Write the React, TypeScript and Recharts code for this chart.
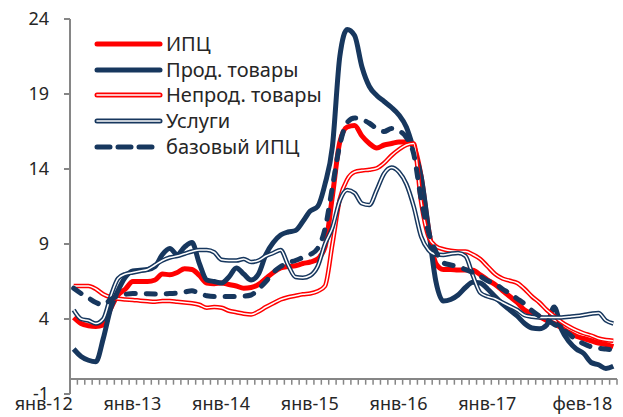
import React from 'react';
import { LineChart, Line, XAxis, YAxis, ReferenceLine } from 'recharts';

const monthNames = ['янв', 'фев', 'мар', 'апр', 'май', 'июн', 'июл', 'авг', 'сен', 'окт', 'ноя', 'дек'];
const categories: string[] = Array.from({ length: 74 }, (_, k) => `${monthNames[k % 12]}-${12 + Math.floor(k / 12)}`);
const shownTicks = [0, 12, 24, 36, 48, 60, 73];
const yTicks = [-1, 4, 9, 14, 19, 24];

const cpi = [
  4.1, 3.7, 3.55, 3.5, 3.6, 4.7, 5.6, 6.0, 6.5, 6.5, 6.5, 6.6,
  7.0, 6.95, 7.1, 7.35, 7.3, 6.9, 6.4, 6.35, 6.4, 6.3, 6.2, 6.05,
  6.1, 6.3, 6.7, 7.1, 7.4, 7.5, 7.55, 7.7, 7.8, 8.0, 8.8, 12.2,
  15.8, 16.8, 16.9, 16.2, 15.7, 15.4, 15.6, 15.7, 15.8, 15.8, 15.5, 13.5,
  10.0, 7.7, 7.3, 7.3, 7.27, 7.27, 7.25, 6.95, 6.6, 6.3, 5.9, 5.5,
  5.1, 4.6, 4.35, 4.15, 3.9, 3.7, 3.4, 3.1, 2.85, 2.7, 2.55, 2.4,
  2.3, 2.15,
];
const food = [
  2.0, 1.5, 1.25, 1.15, 2.7, 4.7, 5.9, 6.8, 7.2, 7.25, 7.3, 7.5,
  8.3, 8.7, 8.3, 8.8, 9.1, 7.7, 6.6, 6.5, 6.4, 6.8, 7.4, 7.0,
  6.6, 7.0, 8.3, 9.1, 9.6, 9.8, 9.9, 10.5, 11.2, 11.5, 13.0, 15.5,
  21.5, 23.3, 22.9, 20.8, 19.5, 18.9, 18.5, 18.1, 17.6, 16.8, 15.3, 13.5,
  10.0, 6.5, 5.2, 5.3, 5.6, 6.1, 6.45, 6.4, 6.0, 5.5, 5.0, 4.6,
  4.2, 3.7, 3.4, 3.35, 3.6, 4.8, 3.3, 2.5, 2.0, 1.7, 1.1, 0.95,
  0.7, 0.85,
];
const nonFood = [
  6.2, 6.2, 6.2, 6.0, 5.65, 5.45, 5.35, 5.3, 5.27, 5.22, 5.18, 5.15,
  5.2, 5.2, 5.15, 5.1, 5.05, 4.95, 4.75, 4.8, 4.75, 4.55, 4.45, 4.35,
  4.3, 4.5, 4.8, 5.05, 5.3, 5.45, 5.55, 5.65, 5.7, 5.85, 6.2, 9.0,
  12.0, 13.3, 13.8, 13.9, 13.95, 14.05, 14.4, 14.9, 15.3, 15.6, 15.7, 11.8,
  9.5, 8.85, 8.65, 8.55, 8.5, 8.5, 8.3, 8.0, 7.5, 7.0, 6.7, 6.55,
  6.4, 6.0, 5.5, 5.1, 4.6, 4.2, 3.8, 3.5, 3.25, 3.05, 2.9, 2.7,
  2.6, 2.55,
];
const services = [
  4.6, 4.0, 3.9, 3.7, 4.0, 5.5, 6.7, 7.0, 7.1, 7.2, 7.3, 7.6,
  7.9, 8.1, 8.2, 8.35, 8.5, 8.6, 8.6, 8.45, 7.95, 7.9, 7.9, 8.0,
  7.8, 7.9, 8.2, 8.4, 8.6, 7.6, 6.8, 6.75, 6.9, 7.5, 9.0, 10.1,
  11.9, 12.6, 12.4, 11.7, 11.6, 12.6, 13.7, 14.1, 13.8, 13.0, 11.5, 9.5,
  8.6, 8.3, 8.27, 8.35, 8.4, 8.2, 6.9, 5.75, 5.5, 5.35, 5.1, 4.85,
  4.6, 4.25, 4.15, 4.1, 4.1, 4.1, 4.1, 4.15, 4.2, 4.27, 4.35, 4.4,
  3.9, 3.7,
];
const core = [
  6.05, 5.7, 5.4, 5.1, 4.95, 5.3, 5.55, 5.65, 5.7, 5.7, 5.68, 5.67,
  5.67, 5.7, 5.72, 5.8, 5.88, 5.7, 5.55, 5.5, 5.5, 5.5, 5.5, 5.52,
  5.6, 6.0, 6.5, 7.1, 7.5, 7.75, 7.9, 8.1, 8.3, 8.7, 10.0, 12.8,
  15.6, 17.1, 17.4, 17.3, 17.05, 16.7, 16.5, 16.7, 16.55, 16.1, 15.0, 12.0,
  9.8, 8.5, 7.75, 7.6, 7.5, 7.3, 7.1, 6.85, 6.55, 6.35, 6.0, 5.7,
  5.35, 5.0, 4.55, 4.2, 3.93, 3.65, 3.35, 3.0, 2.6, 2.35, 2.15, 2.05,
  2.0, 1.93,
];

const seriesNames = ['ИПЦ', 'Прод. товары', 'Непрод. товары', 'Услуги', 'базовый ИПЦ'];

const RED = '#FF0000';
const NAVY = '#17375E';
const AXIS = '#868686';
const TEXT = '#262626';
const FONT = '"Noto Sans", "DejaVu Sans", sans-serif';

const data = categories.map((c, i) => ({
  i,
  cat: c,
  cpi: cpi[i],
  food: food[i],
  nonFood: nonFood[i],
  services: services[i],
  core: core[i],
}));

const boundaries = Array.from({ length: categories.length + 1 }, (_, k) => k - 0.5);

const XTick = (props: any) => {
  const { x, y, payload } = props;
  return (
    <text x={x - 1} y={y} dy={8} textAnchor="end" fontSize={18} fill={TEXT} fontFamily={FONT}>
      {categories[payload.value]}
    </text>
  );
};

const YTick = (props: any) => {
  const { x, y, payload } = props;
  return (
    <text x={x} y={y} dy={6} textAnchor="end" fontSize={18} fill={TEXT} fontFamily={FONT}>
      {payload.value}
    </text>
  );
};

const legendItems = [
  { name: seriesNames[0], kind: 'solid', color: RED },
  { name: seriesNames[1], kind: 'solid', color: NAVY },
  { name: seriesNames[2], kind: 'double', color: RED },
  { name: seriesNames[3], kind: 'double', color: NAVY },
  { name: seriesNames[4], kind: 'dash', color: NAVY },
];

const LegendBox = () => (
  <div style={{ position: 'absolute', left: 94, top: 31, fontFamily: FONT, fontSize: 20, color: TEXT }}>
    {legendItems.map((it) => (
      <div key={it.name} style={{ display: 'flex', alignItems: 'center', height: 25.75 }}>
        <svg width={72} height={12} style={{ display: 'block' }}>
          {it.kind === 'dash' ? (
            <line x1={3} y1={6} x2={66} y2={6} stroke={it.color} strokeWidth={5} strokeDasharray="13 8" strokeLinecap="round" />
          ) : (
            <line x1={3} y1={6} x2={66} y2={6} stroke={it.color} strokeWidth={5} strokeLinecap="round" />
          )}
          {it.kind === 'double' && (
            <line x1={3} y1={6} x2={66} y2={6} stroke="#FFFFFF" strokeWidth={1.6} strokeLinecap="round" />
          )}
        </svg>
        <span style={{ whiteSpace: 'nowrap', lineHeight: 1 }}>{it.name}</span>
      </div>
    ))}
  </div>
);

export default function App() {
  return (
    <div style={{ position: 'absolute', left: 0, top: 0, width: 623, height: 417, background: '#fff' }}>
      <LineChart width={623} height={417} data={data} margin={{ top: 19, right: 6, bottom: 0, left: 0 }}>
        <XAxis
          dataKey="i"
          type="number"
          domain={[-0.5, 73.5]}
          ticks={shownTicks}
          interval={0}
          axisLine={false}
          tickLine={false}
          height={23}
          tick={<XTick />}
        />
        <YAxis
          type="number"
          domain={[-1, 24]}
          ticks={yTicks}
          interval={0}
          width={70}
          axisLine={{ stroke: AXIS, strokeWidth: 2 }}
          tickLine={{ stroke: AXIS, strokeWidth: 2 }}
          tickSize={6}
          tickMargin={15}
          tick={<YTick />}
        />
        <ReferenceLine y={0} stroke={AXIS} strokeWidth={2} />
        {boundaries.map((b) => (
          <ReferenceLine
            key={b}
            segment={[{ x: b, y: 0 }, { x: b, y: -0.38 }]}
            stroke={AXIS}
            strokeWidth={1.5}
          />
        ))}
        <Line dataKey="cpi" name={seriesNames[0]} type="monotone" stroke={RED} strokeWidth={5} dot={false} isAnimationActive={false} />
        <Line dataKey="food" name={seriesNames[1]} type="monotone" stroke={NAVY} strokeWidth={5} dot={false} isAnimationActive={false} />
        <Line dataKey="nonFood" name={seriesNames[2]} type="monotone" stroke={RED} strokeWidth={4.5} dot={false} isAnimationActive={false} />
        <Line dataKey="nonFood" name="nf-inner" legendType="none" type="monotone" stroke="#FFFFFF" strokeWidth={1.5} dot={false} isAnimationActive={false} />
        <Line dataKey="services" name={seriesNames[3]} type="monotone" stroke={NAVY} strokeWidth={4.5} dot={false} isAnimationActive={false} />
        <Line dataKey="services" name="sv-inner" legendType="none" type="monotone" stroke="#FFFFFF" strokeWidth={1.5} dot={false} isAnimationActive={false} />
        <Line dataKey="core" name={seriesNames[4]} type="monotone" stroke={NAVY} strokeWidth={5} strokeDasharray="9 11" strokeLinecap="round" dot={false} isAnimationActive={false} />
      </LineChart>
      <LegendBox />
    </div>
  );
}
